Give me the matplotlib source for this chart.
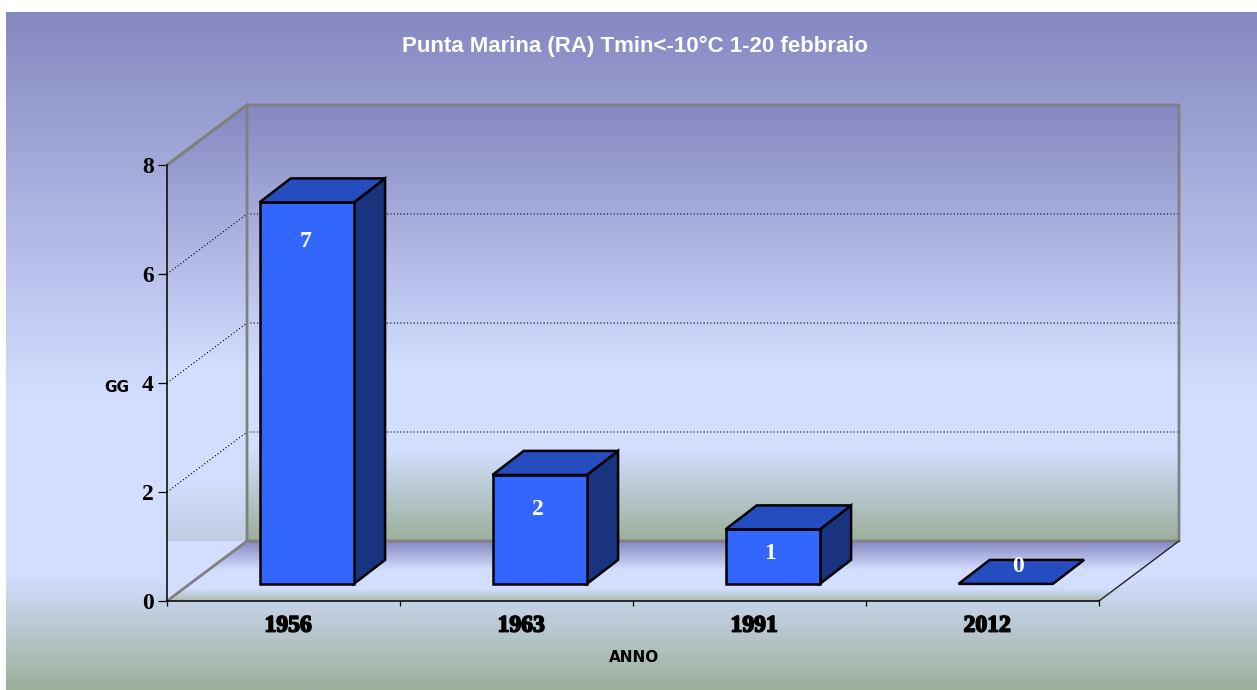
""" Punta Marina (RA) - giorni con Tmin < -10 C, 1-20 febbraio
    - pseudo 3D column chart drawn on a plain 2D axes """

import numpy as np
import matplotlib
matplotlib.use("Agg")
import matplotlib.pyplot as plt
import matplotlib.patheffects as pe
from matplotlib.patches import Polygon

years = ["1956", "1963", "1991", "2012"]
days = [7, 2, 1, 0]
y_ticks = [0, 2, 4, 6, 8]

title = "Punta Marina (RA) Tmin<-10°C 1-20 febbraio"
x_label = "ANNO"
y_label = "GG"

W, H = 1257, 690
LEFT, RIGHT, BOTTOM, TOP = 167, 1099, 601, 165
DEPTH_PX_X, DEPTH_PX_Y = 80, 60

PURPLE = (133, 136, 193)
LIGHT = (211, 222, 255)
GREEN = (155, 175, 155)

PX_X = (RIGHT - LEFT) / len(years)
PX_Y = (BOTTOM - TOP) / y_ticks[-1]
DX = DEPTH_PX_X / PX_X
DY = DEPTH_PX_Y / PX_Y


def gradient_panel(bg, stops, extent, clip=None):
    # vertical gradient, stops are (pixel row, colour)
    x0, x1, y0, y1 = extent
    rows = np.arange(y0, y1 + 1)
    ys = [s[0] for s in stops]
    img = np.zeros((len(rows), 1, 3))
    for c in range(3):
        img[:, 0, c] = np.interp(rows, ys, [s[1][c] / 255 for s in stops])
    im = bg.imshow(img, extent=(x0, x1, y1, y0), aspect="auto", interpolation="bilinear")
    if clip is not None:
        patch = Polygon(clip, closed=True, transform=bg.transData, facecolor="none", edgecolor="none")
        bg.add_patch(patch)
        im.set_clip_path(patch)


def draw_background(fig):
    bg = fig.add_axes([0, 0, 1, 1])
    bg.axis("off")

    gradient_panel(bg, [(12, PURPLE), (400, LIGHT), (575, LIGHT), (690, GREEN)], (6, W, 12, H))
    back_y = TOP - DEPTH_PX_Y
    floor_y = BOTTOM - DEPTH_PX_Y
    left_x = LEFT + DEPTH_PX_X
    right_x = RIGHT + DEPTH_PX_X

    # left wall
    gradient_panel(bg, [(back_y, PURPLE), (370, LIGHT), (480, LIGHT), (floor_y, (192, 204, 224)), (floor_y + 1, LIGHT), (BOTTOM, LIGHT)],
                   (LEFT, left_x, back_y, BOTTOM),
                   clip=[(LEFT, TOP), (left_x, back_y), (left_x, floor_y), (LEFT, BOTTOM)])
    # back wall
    gradient_panel(bg, [(back_y, PURPLE), (370, LIGHT), (450, LIGHT), (floor_y, GREEN)],
                   (left_x, right_x, back_y, floor_y))
    # floor
    gradient_panel(bg, [(floor_y, PURPLE), (570, LIGHT), (589, LIGHT), (BOTTOM, (172, 188, 178))],
                   (LEFT, right_x, floor_y, BOTTOM),
                   clip=[(LEFT, BOTTOM), (RIGHT, BOTTOM), (right_x, floor_y), (left_x, floor_y)])

    bg.set_xlim(0, W)
    bg.set_ylim(H, 0)


def draw_frame(ax, xmin, xmax):
    # gridlines run along the left wall and across the back wall
    for t in y_ticks[1:-1]:
        ax.plot([xmin, xmin + DX, xmax + DX], [t, t + DY, t + DY], color="black", lw=0.8,
                ls=(0, (1, 2)), zorder=1, clip_on=False)

    top = y_ticks[-1]
    wall = dict(color="#808080", lw=2, zorder=2, solid_joinstyle="miter", clip_on=False)
    ax.plot([xmin, xmin + DX, xmax + DX, xmax + DX, xmin + DX, xmin + DX, xmin],
            [top, top + DY, top + DY, DY, DY, top + DY, top], **wall)
    ax.plot([xmin, xmin + DX], [0, DY], **wall)
    ax.plot([xmax, xmax + DX], [0, DY], color="#222222", lw=1, zorder=2, clip_on=False)


def draw_bar(ax, x, value, width=0.405):
    front_dx, front_dy = 0.29 * DX, 0.285 * DY
    back_dx, back_dy = 0.68 * DX, 0.685 * DY
    x0 = x - width / 2 + front_dx
    x1 = x + width / 2 + front_dx
    y0 = front_dy
    y1 = value + front_dy
    sx = back_dx - front_dx
    sy = back_dy - front_dy
    edge = dict(edgecolor="black", linewidth=1.8, joinstyle="miter", zorder=3, clip_on=False)

    if value > 0:
        ax.fill([x1, x1 + sx, x1 + sx, x1], [y0, y0 + sy, y1 + sy, y1], facecolor="#19337f", **edge)
        ax.fill([x0, x1, x1, x0], [y0, y0, y1, y1], facecolor="#3366ff", **edge)
    ax.fill([x0, x1, x1 + sx, x0 + sx], [y1, y1, y1 + sy, y1 + sy], facecolor="#264dc0", **edge)


def plot_days():
    fig = plt.figure(figsize=(W / 100, H / 100), dpi=100, facecolor="white")
    draw_background(fig)

    ax = fig.add_axes([LEFT / W, 1 - BOTTOM / H, (RIGHT - LEFT) / W, (BOTTOM - TOP) / H])
    ax.patch.set_visible(False)
    xmin, xmax = -0.5, len(years) - 0.5
    ax.set_xlim(xmin, xmax)
    ax.set_ylim(0, y_ticks[-1])
    for side in ["top", "right"]:
        ax.spines[side].set_visible(False)
    for side in ["left", "bottom"]:
        ax.spines[side].set_linewidth(1.1)
        ax.spines[side].set_zorder(2.5)

    draw_frame(ax, xmin, xmax)

    x = np.arange(len(years))
    # value labels sit at slightly different heights in the original
    label_px = [39, 35, 24, -17]
    label_dx = [-1, -2, -3, 12]
    for xi, v, dy, dx in zip(x, days, label_px, label_dx):
        draw_bar(ax, xi, v)
        ax.annotate(str(v), (xi + 0.29 * DX, v + 0.285 * DY), xytext=(dx * 0.72, -dy * 0.72),
                    textcoords="offset points", ha="center", va="center", color="white",
                    fontsize=17, fontweight="bold", family="Liberation Serif", zorder=4)

    serif = dict(family="Liberation Serif", fontweight="bold", fontsize=17, color="black")
    ax.set_yticks(y_ticks)
    ax.set_yticklabels([str(t) for t in y_ticks], **serif)
    ax.tick_params(axis="y", length=6.5, width=0.9, pad=3)

    # ticks between the categories, year labels centred on them
    ax.set_xticks(np.arange(len(years) + 1) - 0.5)
    ax.set_xticklabels([])
    ax.set_xticks(x + 0.02, years, minor=True, **serif)
    ax.tick_params(axis="x", which="major", length=3.5, width=0.9, direction="out")
    ax.tick_params(axis="x", which="minor", length=0, pad=10.5)
    for lab in ax.get_xticklabels(minor=True):
        lab.set_path_effects([pe.withStroke(linewidth=1.2, foreground="black")])

    label_style = dict(family="DejaVu Sans", fontweight="bold", fontsize=11, color="black")
    ax.set_xlabel(x_label, **label_style)
    ax.xaxis.set_label_coords((634 - LEFT) / (RIGHT - LEFT), (BOTTOM - 658) / (BOTTOM - TOP), transform=ax.transAxes)
    ax.xaxis.label.set_verticalalignment("center")
    ax.set_ylabel(y_label, rotation=0, **label_style)
    ax.yaxis.set_label_coords((117 - LEFT) / (RIGHT - LEFT), (BOTTOM - 388) / (BOTTOM - TOP), transform=ax.transAxes)
    ax.yaxis.label.set_verticalalignment("center")
    ax.yaxis.label.set_horizontalalignment("center")

    fig.text(635.5 / W, 1 - 46 / H, title, ha="center", va="center", color="white",
             family="Liberation Sans", fontweight="bold", fontsize=16)

    fig.savefig("out.png", dpi=100, facecolor="white")
    plt.close(fig)


plot_days()
